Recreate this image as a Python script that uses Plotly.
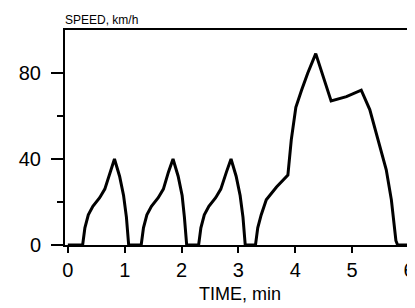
import plotly.graph_objects as go

time_min = [0.0, 0.26, 0.30, 0.36, 0.44, 0.56, 0.65, 0.74, 0.82, 0.91, 0.98, 1.03, 1.07,
            1.29, 1.33, 1.39, 1.47, 1.59, 1.68, 1.77, 1.85, 1.94, 2.01, 2.05, 2.09,
            2.30, 2.34, 2.40, 2.48, 2.60, 2.69, 2.79, 2.87, 2.96, 3.03, 3.08, 3.12,
            3.30, 3.34, 3.40, 3.49, 3.67, 3.87, 3.93, 4.01, 4.11, 4.22, 4.36,
            4.63, 4.90, 5.16, 5.31, 5.45, 5.60, 5.69, 5.77, 5.80, 6.0]
speed_kmh = [0, 0, 8, 14, 18, 22, 26, 34, 40, 32, 23, 13, 0,
             0, 8, 14, 18, 22, 26, 34, 40, 32, 23, 13, 0,
             0, 8, 14, 18, 22, 26, 34, 40, 32, 23, 13, 0,
             0, 8, 14, 21, 27, 32.5, 49, 64, 72, 80, 89,
             67, 69, 72, 63, 49, 35, 21, 2, 0, 0]

x_ticks = [0, 1, 2, 3, 4, 5, 6]
y_ticks = [0, 40, 80]
y_minor = [20, 60]

fig = go.Figure()
fig.add_trace(go.Scatter(x=time_min, y=speed_kmh, mode="lines",
                         line=dict(color="black", width=3), showlegend=False))

font = "Liberation Sans, Arial, sans-serif"
fig.update_layout(
    width=407, height=300,
    margin=dict(l=57, r=6, t=22, b=63),
    paper_bgcolor="white", plot_bgcolor="white",
    font=dict(family=font, color="black", size=20),
    xaxis=dict(range=[-0.05, 6.0], tickvals=x_ticks, ticks="outside", ticklen=6,
               tickwidth=1.5, tickcolor="black", showline=True, linecolor="black",
               linewidth=2, mirror=True, showgrid=False, zeroline=False, automargin=False,
               ticklabelstandoff=0, tickfont=dict(size=20)),
    yaxis=dict(range=[0, 100], tickvals=y_ticks, ticks="outside", ticklen=12,
               tickwidth=1.5, tickcolor="black", showline=True, linecolor="black",
               linewidth=2, mirror=True, showgrid=False, zeroline=False, automargin=False,
               ticklabelstandoff=6, tickfont=dict(size=20),
               minor=dict(tickvals=y_minor, ticks="outside", ticklen=6, tickcolor="black", tickwidth=1.5)),
    annotations=[
        dict(text="SPEED, km/h", xref="paper", yref="paper", x=-0.005, y=1.0,
             xanchor="left", yanchor="bottom", showarrow=False, yshift=1,
             font=dict(family="Liberation Sans Narrow, Liberation Sans, sans-serif", size=12)),
        dict(text="TIME, min", xref="paper", yref="paper", x=0.51, y=0.0,
             xanchor="center", yanchor="top", showarrow=False, yshift=-37,
             font=dict(size=18)),
    ],
)
fig.write_html("out.html")
